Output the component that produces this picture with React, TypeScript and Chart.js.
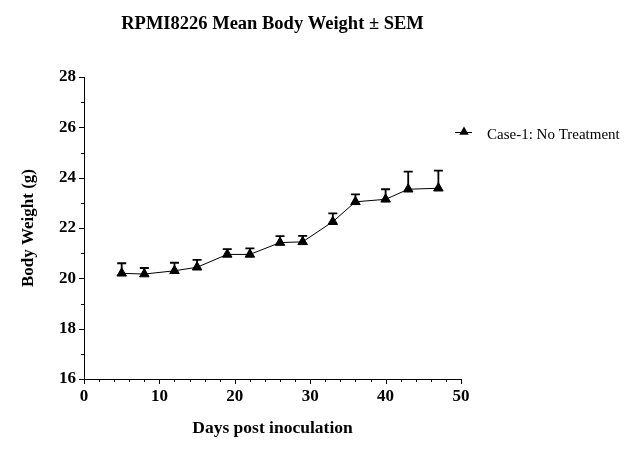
import React, { useEffect, useRef } from 'react';
import { Chart, registerables } from 'chart.js';

Chart.register(...registerables);

const days = [5, 8, 12, 15, 19, 22, 26, 29, 33, 36, 40, 43, 47];
const meanWeight = [20.2, 20.17, 20.3, 20.44, 20.95, 20.95, 21.42, 21.45, 22.25, 23.04, 23.14, 23.54, 23.58];
const semWeight = [0.4, 0.24, 0.32, 0.29, 0.21, 0.24, 0.26, 0.24, 0.33, 0.3, 0.4, 0.7, 0.7];
const seriesLabel = 'Case-1: No Treatment';
const chartTitle = 'RPMI8226 Mean Body Weight ± SEM';
const xAxisTitle = 'Days post inoculation';
const yAxisTitle = 'Body Weight (g)';
const xTickLabels = [0, 10, 20, 30, 40, 50];
const yTickLabels = [16, 18, 20, 22, 24, 26, 28];

const FONT = "'Liberation Serif', 'Times New Roman', Times, serif";

const errorBarPlugin = {
  id: 'errorBars',
  beforeDatasetsDraw(chart: any) {
    const ctx = chart.ctx;
    const meta = chart.getDatasetMeta(0);
    const y = chart.scales.y;
    ctx.save();
    ctx.strokeStyle = '#000';
    ctx.lineWidth = 1.8;
    meta.data.forEach((pt: any, i: number) => {
      const top = y.getPixelForValue(meanWeight[i] + semWeight[i]);
      ctx.beginPath();
      ctx.moveTo(pt.x, pt.y);
      ctx.lineTo(pt.x, top);
      ctx.moveTo(pt.x - 4.5, top);
      ctx.lineTo(pt.x + 4.5, top);
      ctx.stroke();
    });
    ctx.restore();
  },
};

const axisTickPlugin = {
  id: 'axisTicks',
  afterDraw(chart: any) {
    const ctx = chart.ctx;
    const { left, bottom } = chart.chartArea;
    const xs = chart.scales.x;
    const ys = chart.scales.y;
    ctx.save();
    ctx.strokeStyle = '#000';
    ctx.lineWidth = 1;
    ctx.beginPath();
    xs.ticks.forEach((t: any) => {
      const px = Math.round(xs.getPixelForValue(t.value)) + 0.5;
      const len = xTickLabels.includes(t.value) ? 5 : 3;
      ctx.moveTo(px, bottom);
      ctx.lineTo(px, bottom + len);
    });
    ys.ticks.forEach((t: any) => {
      const py = Math.round(ys.getPixelForValue(t.value)) + 0.5;
      const len = yTickLabels.includes(t.value) ? 5 : 3;
      ctx.moveTo(left, py);
      ctx.lineTo(left - len, py);
    });
    ctx.stroke();
    ctx.restore();
  },
};

const legendPlugin = {
  id: 'customLegend',
  afterDraw(chart: any) {
    const ctx = chart.ctx;
    const x0 = chart.chartArea.right - 6;
    const yc = 132;
    ctx.save();
    ctx.strokeStyle = '#000';
    ctx.fillStyle = '#000';
    ctx.lineWidth = 1;
    ctx.beginPath();
    ctx.moveTo(x0, yc + 0.5);
    ctx.lineTo(x0 + 17, yc + 0.5);
    ctx.stroke();
    const cx = x0 + 9;
    const r = 5.5;
    ctx.beginPath();
    ctx.moveTo(cx, yc - r);
    ctx.lineTo(cx + r * 0.866, yc + r * 0.5);
    ctx.lineTo(cx - r * 0.866, yc + r * 0.5);
    ctx.closePath();
    ctx.fill();
    ctx.font = `15px ${FONT}`;
    ctx.textBaseline = 'middle';
    ctx.textAlign = 'left';
    ctx.fillText(seriesLabel, x0 + 32, yc + 3);
    ctx.restore();
  },
};

export default function App() {
  const ref = useRef<HTMLCanvasElement>(null);
  useEffect(() => {
    if (!ref.current) return;
    const chart = new Chart(ref.current, {
      type: 'line',
      data: {
        datasets: [
          {
            label: seriesLabel,
            data: days.map((d, i) => ({ x: d, y: meanWeight[i] })),
            borderColor: '#000',
            backgroundColor: '#000',
            borderWidth: 1,
            pointStyle: 'triangle',
            pointRadius: 5.5,
            pointBackgroundColor: '#000',
            pointBorderColor: '#000',
            pointBorderWidth: 1,
            tension: 0,
          },
        ],
      },
      options: {
        animation: false,
        responsive: false,
        layout: { padding: { left: 0, right: 173, top: 0, bottom: 0 } },
        plugins: {
          legend: { display: false },
          tooltip: { enabled: false },
          title: {
            display: true,
            text: chartTitle,
            color: '#000',
            fullSize: false,
            font: { family: FONT, size: 18.5, weight: 'bold' },
            padding: { top: 13, bottom: 41.8 },
          },
        },
        scales: {
          x: {
            type: 'linear',
            min: 0,
            max: 50,
            afterFit: (s: any) => { s.height = 93; },
            ticks: {
              stepSize: 2,
              autoSkip: false,
              maxRotation: 0,
              padding: 7,
              color: '#000',
              font: { family: FONT, size: 17, weight: 'bold' },
              callback: (v: any) => (xTickLabels.includes(v) ? String(v) : ''),
            },
            grid: { drawOnChartArea: false, drawTicks: false },
            border: { display: true, color: '#000', width: 1 },
            title: {
              display: true,
              text: xAxisTitle,
              color: '#000',
              font: { family: FONT, size: 17.5, weight: 'bold' },
              padding: { top: 0, bottom: 33 },
            },
          },
          y: {
            type: 'linear',
            min: 16,
            max: 28,
            afterFit: (s: any) => { s.width = 84; },
            ticks: {
              stepSize: 1,
              autoSkip: false,
              padding: 8,
              color: '#000',
              font: { family: FONT, size: 17, weight: 'bold' },
              callback: (v: any) => (yTickLabels.includes(v) ? String(v) : ''),
            },
            grid: { drawOnChartArea: false, drawTicks: false },
            border: { display: true, color: '#000', width: 1 },
            title: {
              display: true,
              text: yAxisTitle,
              color: '#000',
              font: { family: FONT, size: 17, weight: 'bold' },
              padding: { top: 18, bottom: 0 },
            },
          },
        },
      },
      plugins: [errorBarPlugin, axisTickPlugin, legendPlugin],
    } as any);
    return () => chart.destroy();
  }, []);
  return (
    <div style={{ position: 'absolute', left: 0, top: 0, width: 634, height: 472, background: '#fff' }}>
      <canvas ref={ref} width={634} height={472} />
    </div>
  );
}
